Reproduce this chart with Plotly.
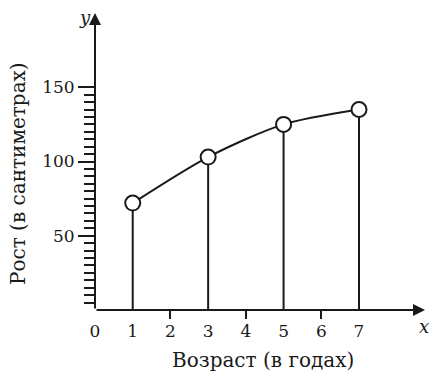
import plotly.graph_objects as go

# Data
ages = [1, 3, 5, 7]
heights = [72, 103, 125, 135]
x_tick_vals = [0, 1, 2, 3, 4, 5, 6, 7]
x_tick_text = ["0", "1", "2", "3", "4", "5", "6", "7"]
x_marked_ticks = [2, 4, 6]
y_tick_vals = [50, 100, 150]
y_minor_vals = [v for v in range(5, 150, 5) if v % 50 != 0]
x_title = "Возраст (в годах)"
y_title = "Рост (в сантиметрах)"

FONT = "DejaVu Serif, Liberation Serif, serif"
INK = "#1a1a1a"
X_MAX = 8.75
Y_MAX = 200

fig = go.Figure()

# vertical stems from the x axis to each point
for a, h in zip(ages, heights):
    fig.add_trace(go.Scatter(x=[a, a], y=[0, h], mode="lines",
                             line=dict(color=INK, width=2),
                             hoverinfo="skip", showlegend=False))

# smooth curve through points
fig.add_trace(go.Scatter(x=ages, y=heights, mode="lines",
                         line=dict(color=INK, width=2, shape="spline", smoothing=0.8),
                         showlegend=False))
# open circle markers
fig.add_trace(go.Scatter(x=ages, y=heights, mode="markers",
                         marker=dict(size=15, color="white",
                                     line=dict(color=INK, width=2)),
                         showlegend=False))

# invisible trace on overlay x axis for the short ticks at 2, 4, 6
fig.add_trace(go.Scatter(x=[0], y=[0], xaxis="x2", mode="markers",
                         marker=dict(opacity=0), showlegend=False, hoverinfo="skip"))

fig.update_layout(
    width=430, height=373,
    margin=dict(l=95, r=5, t=13, b=63),
    paper_bgcolor="white", plot_bgcolor="white",
    showlegend=False,
    font=dict(family=FONT, color=INK),
    xaxis=dict(range=[0, X_MAX], tickvals=x_tick_vals, ticktext=x_tick_text,
               showgrid=False, zeroline=False, showline=False,
               ticks="outside", ticklen=6, tickcolor="rgba(0,0,0,0)",
               tickfont=dict(size=17, family=FONT, color=INK)),
    xaxis2=dict(range=[0, X_MAX], overlaying="x", side="bottom", anchor="y",
                tickvals=x_marked_ticks, showticklabels=False,
                ticks="outside", ticklen=8, tickwidth=2, tickcolor=INK,
                showgrid=False, zeroline=False, showline=False),
    yaxis=dict(range=[0, Y_MAX], tickvals=y_tick_vals,
               showgrid=False, zeroline=False, showline=False,
               ticks="outside", ticklen=16, tickwidth=2, tickcolor=INK,
               tickfont=dict(size=17, family=FONT, color=INK)),
)
fig.update_yaxes(minor=dict(tickvals=y_minor_vals, ticks="outside", ticklen=10,
                            tickwidth=1.5, tickcolor=INK))

# axes with arrows
fig.add_annotation(x=X_MAX, y=0, ax=0, ay=0, xref="x", yref="y", axref="x", ayref="y",
                   showarrow=True, arrowhead=2, arrowsize=1.2, arrowwidth=2,
                   arrowcolor=INK, text="")
fig.add_annotation(x=0, y=Y_MAX, ax=0, ay=0, xref="x", yref="y", axref="x", ayref="y",
                   showarrow=True, arrowhead=2, arrowsize=1.2, arrowwidth=2,
                   arrowcolor=INK, text="")

# axis letter labels
fig.add_annotation(x=0, y=Y_MAX, xref="x", yref="y", text="<i>y</i>", showarrow=False,
                   xanchor="right", yanchor="top", xshift=-2, yshift=8,
                   font=dict(size=18, family=FONT, color=INK))
fig.add_annotation(x=X_MAX, y=0, xref="x", yref="y", text="<i>x</i>", showarrow=False,
                   xanchor="right", yanchor="top", yshift=-4, xshift=6,
                   font=dict(size=18, family=FONT, color=INK))

# axis titles
fig.add_annotation(x=0, y=0, xref="paper", yref="paper", text=x_title, showarrow=False,
                   xanchor="center", yanchor="middle", xshift=168, yshift=-50,
                   font=dict(size=20, family=FONT, color=INK))
fig.add_annotation(x=0, y=0, xref="paper", yref="paper", text=y_title, showarrow=False,
                   textangle=-90, xanchor="center", yanchor="middle",
                   xshift=-77, yshift=136,
                   font=dict(size=20, family=FONT, color=INK))

fig.write_html("out.html", config={"displayModeBar": False},
               post_script="document.body.style.margin='0';")
